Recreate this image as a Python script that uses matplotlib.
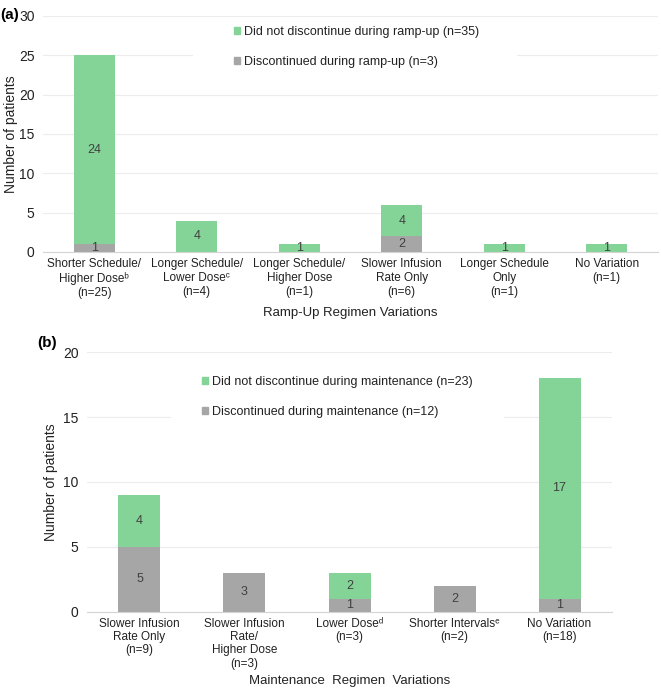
import numpy as np
import matplotlib
matplotlib.use("Agg")
import matplotlib.pyplot as plt
from matplotlib.patches import Patch, Rectangle

plt.rcParams['font.family'] = ['Liberation Sans', 'DejaVu Sans']

# panel (a) data
ramp_cats = ['Shorter Schedule/\nHigher Dose\u1d47\n(n=25)',
             'Longer Schedule/\nLower Dose\u1d9c\n(n=4)',
             'Longer Schedule/\nHigher Dose\n(n=1)',
             'Slower Infusion\nRate Only\n(n=6)',
             'Longer Schedule\nOnly\n(n=1)',
             'No Variation\n(n=1)']
ramp_disc = [1, 0, 0, 2, 0, 0]
ramp_cont = [24, 4, 1, 4, 1, 1]

# panel (b) data
maint_cats = ['Slower Infusion\nRate Only\n(n=9)',
              'Slower Infusion\nRate/\nHigher Dose\n(n=3)',
              'Lower Dose\u1d48\n(n=3)',
              'Shorter Intervals\u1d49\n(n=2)',
              'No Variation\n(n=18)']
maint_disc = [5, 3, 1, 2, 1]
maint_cont = [4, 0, 2, 0, 17]

green = '#84d498'
gray = '#a6a6a6'
txt = '#404040'
dark = '#222222'

fig = plt.figure(figsize=(6.61, 6.89), dpi=100)
ax1 = fig.add_axes([0.065, 0.6343, 0.9305, 0.3425])
ax2 = fig.add_axes([0.1316, 0.1118, 0.7943, 0.3773])


def draw(ax, cats, disc, cont, ymax, xlabel, leg_labels, leg_loc, blank, ylab_x, xlab_y, lsp):
    x = np.arange(len(cats))
    disc = np.array(disc)
    cont = np.array(cont)
    ax.bar(x, disc, width=0.40, color=gray, zorder=3)
    ax.bar(x, cont, width=0.40, bottom=disc, color=green, zorder=3)
    for i in range(len(x)):
        if disc[i] > 0:
            ax.text(x[i], disc[i] / 2, str(disc[i]), ha='center', va='center',
                    fontsize=9, color=txt, zorder=4)
        if cont[i] > 0:
            ax.text(x[i], disc[i] + cont[i] / 2, str(cont[i]), ha='center', va='center',
                    fontsize=9, color=txt, zorder=4)
    ax.set_xlim(-0.5, len(cats) - 0.5)
    ax.set_ylim(0, ymax)
    ax.set_yticks(np.arange(0, ymax + 1, 5))
    ax.set_xticks(x)
    ax.set_xticklabels(cats, fontsize=8.5, color=dark, linespacing=lsp, va='top')
    ax.tick_params(axis='both', length=0, colors=dark)
    ax.tick_params(axis='y', labelsize=10, pad=6)
    ax.tick_params(axis='x', pad=4)
    ax.yaxis.grid(True, color='#ececec', linewidth=0.8, zorder=0)
    ax.set_axisbelow(True)
    for s in ['top', 'right', 'left']:
        ax.spines[s].set_visible(False)
    ax.spines['bottom'].set_color('#d4d4d4')
    ax.spines['bottom'].set_zorder(5)
    ax.set_ylabel('Number of patients', fontsize=10, color=dark)
    ax.yaxis.set_label_coords(ylab_x, 0.5)
    ax.set_xlabel(xlabel, fontsize=9.5, color=dark)
    ax.xaxis.set_label_coords(0.5, xlab_y)
    ax.xaxis.label.set_va('center')
    # white box behind the legend that hides the grid, like the original
    ax.add_patch(Rectangle((blank[0], blank[1]), blank[2], blank[3], transform=ax.transAxes,
                           facecolor='white', edgecolor='none', zorder=1))
    handles = [Patch(color=green), Patch(color=gray)]
    leg = ax.legend(handles, leg_labels, loc='upper left', bbox_to_anchor=leg_loc,
                    fontsize=9, handlelength=0.5, handleheight=0.5, handletextpad=0.3,
                    labelspacing=1.45, frameon=False, borderpad=0.3, borderaxespad=0)
    for t in leg.get_texts():
        t.set_color(dark)


draw(ax1, ramp_cats, ramp_disc, ramp_cont, 30, 'Ramp-Up Regimen Variations',
     ['Did not discontinue during ramp-up (n=35)', 'Discontinued during ramp-up (n=3)'],
     (0.304, 0.975), (0.244, 0.746, 0.527, 0.229), -0.040, -0.258, 1.25)
draw(ax2, maint_cats, maint_disc, maint_cont, 20, 'Maintenance  Regimen  Variations',
     ['Did not discontinue during maintenance (n=23)', 'Discontinued during maintenance (n=12)'],
     (0.211, 0.923), (0.160, 0.718, 0.634, 0.212), -0.055, -0.266, 1.15)

fig.text(0.0, 0.9885, '(a)', fontsize=11, fontweight='bold', va='top', ha='left')
fig.text(0.057, 0.512, '(b)', fontsize=11, fontweight='bold', va='top', ha='left')

fig.savefig('out.png', dpi=100)
